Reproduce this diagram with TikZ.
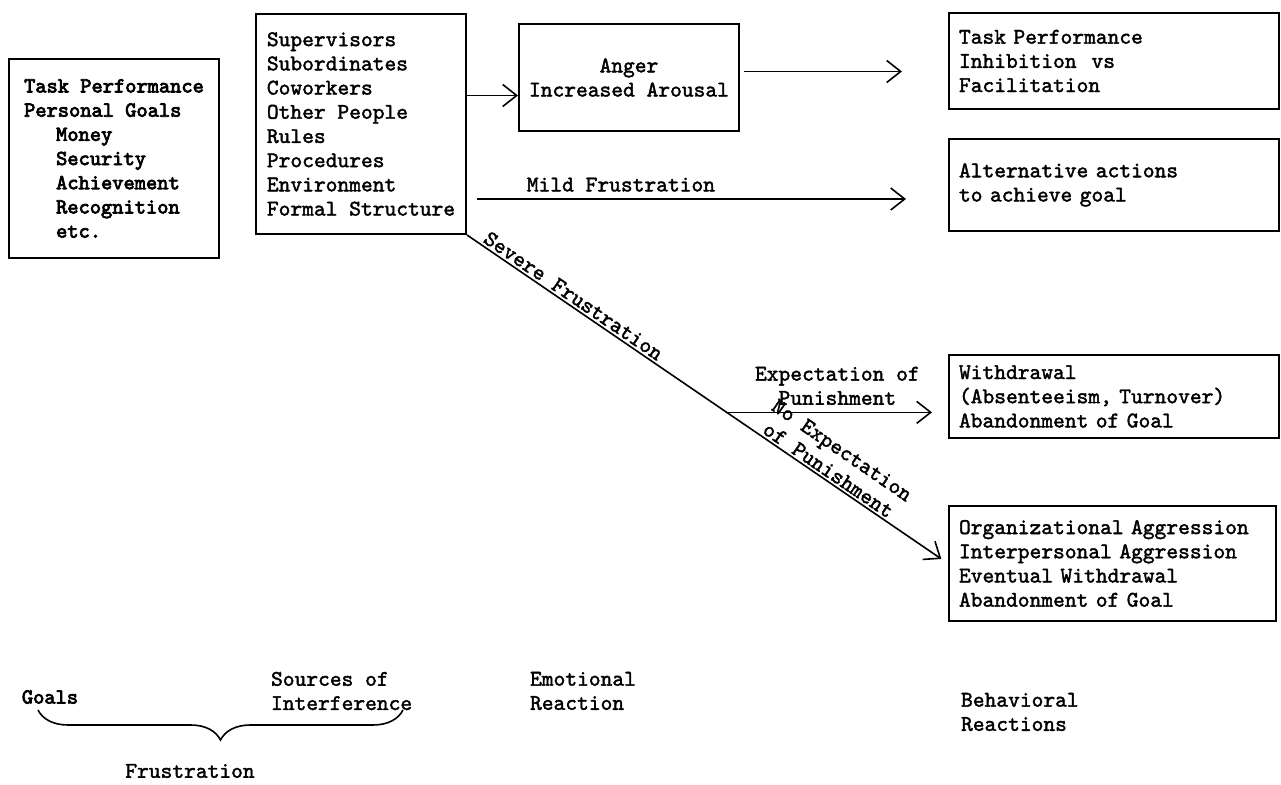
\documentclass[tikz,border=0pt]{standalone}
\usepackage{fontspec}
\usetikzlibrary{arrows.meta,decorations.pathreplacing}
\newfontfamily\tyfont{lmmono10-regular}[Extension=.otf,FakeBold=1.8]
\newfontfamily\tybold{lmmono10-regular}[Extension=.otf,FakeBold=3.5]

\begin{document}
\begin{tikzpicture}[x=0.5pt,y=-0.5pt,
        font=\tyfont\fontsize{11.2}{12.1}\selectfont,
        >={Straight Barb[length=7pt,width=11pt]},
        box/.style={draw, line width=1pt, anchor=north west, align=left, inner xsep=5pt},
        link/.style={line width=0.8pt}]
        \useasboundingbox (0,0) rectangle (1281,785);

        % Goals
        \node[box, font=\tybold\fontsize{10.7}{12.1}\selectfont, minimum width=105pt, minimum height=99.5pt] (goals) at (8,58)
            {Task Performance\\Personal Goals\\\hspace*{16pt}Money\\\hspace*{16pt}Security\\\hspace*{16pt}Achievement\\\hspace*{16pt}Recognition\\\hspace*{16pt}etc.};

        % Sources of interference
        \node[box, minimum width=105pt, minimum height=110pt] (src) at (255,13)
            {Supervisors\\Subordinates\\Coworkers\\Other People\\Rules\\Procedures\\Environment\\Formal Structure};

        % Emotional reaction
        \node[box, align=center, minimum width=102pt, minimum height=53.5pt] (anger) at (518,23) {Anger\\Increased Arousal};

        % Behavioral reactions
        \node[box, text width=155pt, minimum height=48pt] (task) at (948,12) {Task Performance\\Inhibition~~vs\\Facilitation};
        \node[box, text width=155pt, minimum height=46pt] (alt) at (948,138) {Alternative actions\\to achieve goal};
        \node[box, text width=155pt, minimum height=41.5pt] (wd) at (948,354) {Withdrawal\\(Absenteeism, Turnover)\\Abandonment of Goal};
        \node[box, text width=153.5pt, minimum height=57.5pt] (org) at (948,505) {Organizational Aggression\\Interpersonal Aggression\\Eventual Withdrawal\\Abandonment of Goal};

        % Arrows
        \coordinate (aw) at ([yshift=-9pt]anger.west);
        \draw[link, ->] (aw -| src.east) -- (aw);
        \coordinate (ae) at ([yshift=3pt]anger.east);
        \draw[link, ->, shorten <=2pt, shorten >=23pt] (ae) -- (ae -| task.west);
        \coordinate (mf) at ([yshift=-7pt]alt.west);
        \draw[link, ->, shorten <=5pt, shorten >=21pt] (mf -| src.east) -- (mf)
            node[pos=0.32, above] {Mild Frustration};
        \draw[link, ->, shorten >=4pt] (src.south east) -- (org.west)
            node[pos=0.21, sloped, above, inner sep=1pt] {Severe Frustration}
            node[pos=0.74, sloped, above, align=center, inner sep=1pt] {No Expectation\\of Punishment}
            coordinate[pos=0.54] (fork);
        \draw[link, ->, shorten >=8pt] (fork) -- (fork -| wd.west)
            node[midway, above, align=center] {Expectation of\\Punishment};

        % Column labels
        \node[font=\tybold\fontsize{10.7}{12.1}\selectfont, inner sep=1pt] (goalslbl) at (50,697) {Goals};
        \node[anchor=west, align=left] (srclbl) at (264,691) {Sources of\\Interference};
        \node[anchor=west, align=left] (emolbl) at (523,691) {Emotional\\Reaction};
        \node[anchor=west, align=left] (behlbl) at (954,712) {Behavioral\\Reactions};
        \coordinate (brL) at (38,710);
        \coordinate (brR) at (403,710);
        \draw[link, decorate, decoration={brace, mirror, amplitude=15pt}] (brL) -- (brR);
        \node (frus) at (190,771) {Frustration};
    \end{tikzpicture}
\end{document}
